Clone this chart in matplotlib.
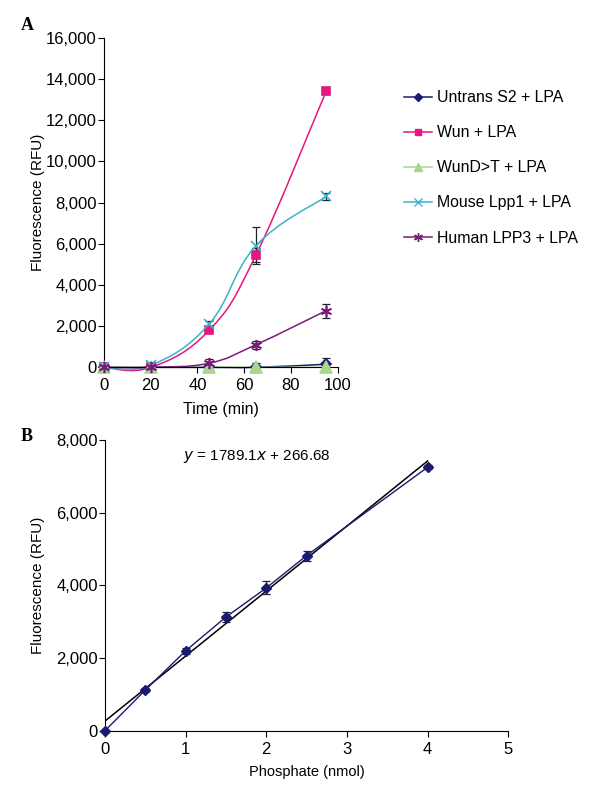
import numpy as np
import matplotlib
matplotlib.use("Agg")
import matplotlib.pyplot as plt
from matplotlib.path import Path
from matplotlib.patches import PathPatch
from matplotlib.lines import Line2D

plt.rcParams["font.family"] = ["Liberation Sans", "DejaVu Sans"]

# Panel A data
time = [0, 20, 45, 65, 95]
untrans = [0, 0, 0, 0, 150]
untrans_err = [0, 0, 0, 220, 280]
wun = [0, 0, 1800, 5450, 13400]
wun_err = [0, 0, 0, 350, 0]
wund = [0, 0, 0, 0, 0]
wund_err = [0, 0, 0, 0, 0]
mouse = [0, 100, 2100, 5900, 8300]
mouse_err = [0, 0, 150, 900, 150]
human = [0, 0, 200, 1100, 2750]
human_err = [0, 0, 200, 200, 350]
series_names = ["Untrans S2 + LPA", "Wun + LPA", "WunD>T + LPA",
                "Mouse Lpp1 + LPA", "Human LPP3 + LPA"]

# Panel B data
phosphate = [0, 0.5, 1, 1.5, 2, 2.5, 4]
fluor = [0, 1120, 2200, 3130, 3930, 4820, 7250]
fluor_err = [0, 60, 80, 130, 180, 140, 60]
slope, intercept = 1789.1, 266.68


def smooth_path(xs, ys, k=0.2):
    # cubic bezier through the points (catmull-rom style handles)
    xs = np.asarray(xs, float)
    ys = np.asarray(ys, float)
    verts = [(xs[0], ys[0])]
    codes = [Path.MOVETO]
    n = len(xs)
    for i in range(n - 1):
        p0 = np.array([xs[max(i - 1, 0)], ys[max(i - 1, 0)]])
        p1 = np.array([xs[i], ys[i]])
        p2 = np.array([xs[i + 1], ys[i + 1]])
        p3 = np.array([xs[min(i + 2, n - 1)], ys[min(i + 2, n - 1)]])
        c1 = p1 + (p2 - p0) * k
        c2 = p2 - (p3 - p1) * k
        verts += [tuple(c1), tuple(c2), tuple(p2)]
        codes += [Path.CURVE4] * 3
    return Path(verts, codes)


fig = plt.figure(figsize=(6, 7.9), dpi=100)

# ---- Panel A ----
ax = fig.add_axes([0.173, 0.535, 0.390, 0.417])
styles = [
    (untrans, untrans_err, "#1c1a6e", "D", 5),
    (wun, wun_err, "#e5177e", "s", 6),
    (wund, wund_err, "#a8d68a", "^", 8),
    (mouse, mouse_err, "#3bb3cb", "x", 7),
    (human, human_err, "#7a1a78", (6, 2, 0), 8),
]
handles = []
for (vals, err, col, mk, ms), name in zip(styles, series_names):
    ax.add_patch(PathPatch(smooth_path(time, vals), facecolor="none",
                           edgecolor=col, lw=1.1, zorder=2))
    ax.errorbar(time, vals, yerr=err, fmt="none", ecolor="#222222",
                elinewidth=0.9, capsize=3, capthick=0.9, zorder=3)
    ax.plot(time, vals, linestyle="none", marker=mk, color=col, ms=ms,
            mew=1.2, zorder=4)
    handles.append(Line2D([0], [0], color=col, lw=1.1, marker=mk,
                          ms=ms * 0.8, mew=1.0))

ax.set_xlim(0, 100)
ax.set_ylim(0, 16000)
ax.set_xticks([0, 20, 40, 60, 80, 100])
ax.set_yticks(range(0, 16001, 2000))
ax.set_yticklabels([f"{v:,}" for v in range(0, 16001, 2000)])
ax.spines["top"].set_visible(False)
ax.spines["right"].set_visible(False)
ax.tick_params(direction="out", length=4, labelsize=12)
ax.tick_params(axis="x", pad=4)
ax.tick_params(axis="y", pad=1)
ax.set_xlabel("Time (min)", fontsize=11.5, labelpad=6)
ax.set_ylabel("Fluorescence (RFU)", fontsize=11)
ax.yaxis.set_label_coords(-0.25, 0.5)
for art in ax.patches + ax.lines + ax.collections:
    art.set_clip_on(False)

fig.legend(handles, series_names, loc="upper left",
           bbox_to_anchor=(0.662, 0.894), frameon=False, fontsize=11.4,
           handlelength=1.8, handletextpad=0.3, labelspacing=1.27,
           borderaxespad=0)

fig.text(0.035, 0.968, "A", fontsize=13, fontweight="bold",
         family="Liberation Serif", va="center")

# ---- Panel B ----
bx = fig.add_axes([0.175, 0.075, 0.672, 0.368])
xfit = np.array([0, 4])
bx.plot(xfit, slope * xfit + intercept, color="black", lw=1.1, zorder=2)
bx.errorbar(phosphate, fluor, yerr=fluor_err, fmt="none", ecolor="#222222",
            elinewidth=0.9, capsize=3, capthick=0.9, zorder=3)
bx.plot(phosphate, fluor, color="#1c1a6e", marker="D", ms=5, lw=1.0, zorder=4,
        clip_on=False)
bx.set_xlim(0, 5)
bx.set_ylim(0, 8000)
bx.set_xticks(range(0, 6))
bx.set_yticks(range(0, 8001, 2000))
bx.set_yticklabels([f"{v:,}" for v in range(0, 8001, 2000)])
bx.spines["top"].set_visible(False)
bx.spines["right"].set_visible(False)
bx.tick_params(direction="out", length=4, labelsize=12)
bx.tick_params(axis="x", pad=4)
bx.tick_params(axis="y", pad=1)
bx.set_xlabel("Phosphate (nmol)", fontsize=10.5, labelpad=6)
bx.set_ylabel("Fluorescence (RFU)", fontsize=11)
bx.yaxis.set_label_coords(-0.15, 0.5)
bx.text(0.97, 7550, r"$y$ = 1789.1$x$ + 266.68", fontsize=11,
        ha="left", va="center")

fig.text(0.035, 0.447, "B", fontsize=13, fontweight="bold",
         family="Liberation Serif", va="center")

fig.savefig("out.png", dpi=100)
